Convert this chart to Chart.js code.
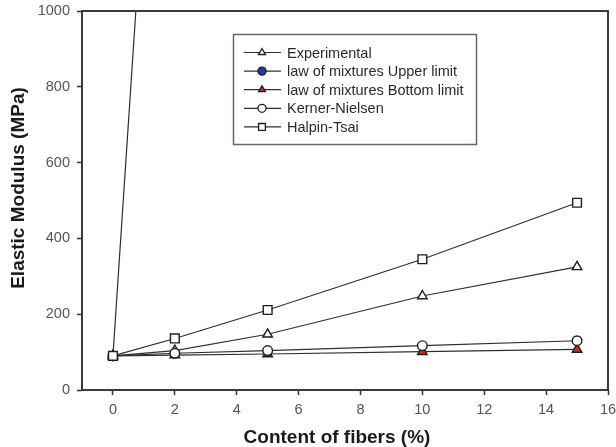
<!DOCTYPE html>
<html>
<head>
<meta charset="utf-8">
<script src="https://cdn.jsdelivr.net/npm/chart.js@4.4.1/dist/chart.umd.min.js"></script>
<style>
  body { margin: 0; background: #fff; }
</style>
</head>
<body>
<canvas id="modulusChart" width="616" height="447"></canvas>
<script>
// fiber content (%) of the samples
const fiberContent = [0, 2, 5, 10, 15];

// elastic modulus (MPa) for each series
const experimental = [90, 104, 147, 248, 325];
const mixturesUpper = [90, 2550, 6240, 12390, 18540];
const mixturesBottom = [90, 92, 95, 101, 107];
const kernerNielsen = [90, 97, 104, 117, 130];
const halpinTsai = [90, 136, 211, 345, 494];

const seriesNames = [
    "Experimental",
    "law of mixtures Upper limit",
    "law of mixtures Bottom limit",
    "Kerner-Nielsen",
    "Halpin-Tsai"
];

const xTicks = [0, 2, 4, 6, 8, 10, 12, 14, 16];
const yTicks = [0, 200, 400, 600, 800, 1000];

const lineColor = "#2e2e2e";
const tickFont = { family: "'Liberation Sans', Arial, sans-serif", size: 14.5 };

function toPoints(values) {
    return fiberContent.map((x, i) => ({ x: x, y: values[i] }));
}

function makeDataset(label, values, style, radius, fill, order) {
    return {
        label: label,
        data: toPoints(values),
        borderColor: lineColor,
        borderWidth: 1.2,
        pointStyle: style,
        pointRadius: radius,
        pointBackgroundColor: fill,
        pointBorderColor: "#1e1e1e",
        pointBorderWidth: 1.4,
        fill: false,
        tension: 0,
        order: order
    };
}

const datasets = [
    makeDataset(seriesNames[0], experimental, "triangle", 5.5, "#ffffff", 3),
    makeDataset(seriesNames[1], mixturesUpper, "circle", 4.5, "#1f3fa8", 5),
    makeDataset(seriesNames[2], mixturesBottom, "triangle", 5.5, "#d42a1e", 4),
    makeDataset(seriesNames[3], kernerNielsen, "circle", 4.8, "#ffffff", 2),
    makeDataset(seriesNames[4], halpinTsai, "rect", 6.2, "#ffffff", 1)
];

// small marker painter for the legend box
function drawMarker(ctx, style, x, y, r, fill) {
    ctx.beginPath();
    if (style === "triangle") {
        ctx.moveTo(x, y - r);
        ctx.lineTo(x + r * 0.866, y + r * 0.5);
        ctx.lineTo(x - r * 0.866, y + r * 0.5);
        ctx.closePath();
    } else if (style === "rect") {
        const s = r * 0.707;
        ctx.rect(x - s, y - s, s * 2, s * 2);
    } else {
        ctx.arc(x, y, r, 0, Math.PI * 2);
    }
    ctx.fillStyle = fill;
    ctx.fill();
    ctx.lineWidth = 1.3;
    ctx.strokeStyle = "#1e1e1e";
    ctx.stroke();
}

const framePlugin = {
    id: "frameAndLegend",
    afterDraw(chart) {
        const ctx = chart.ctx;
        const area = chart.chartArea;
        ctx.save();

        // box around the plot
        ctx.strokeStyle = "#3a3a3a";
        ctx.lineWidth = 2;
        ctx.strokeRect(area.left, area.top, area.right - area.left, area.bottom - area.top);

        // axis titles
        ctx.fillStyle = "#1a1a1a";
        ctx.font = "bold 19px 'Liberation Sans', Arial, sans-serif";
        ctx.textAlign = "center";
        ctx.textBaseline = "middle";
        ctx.fillText("Content of fibers (%)", 337, 438);
        ctx.save();
        ctx.translate(19, 188);
        ctx.rotate(-Math.PI / 2);
        ctx.fillText("Elastic Modulus (MPa)", 0, 0);
        ctx.restore();

        // legend box
        ctx.strokeStyle = "#6e6262";
        ctx.lineWidth = 1.5;
        ctx.strokeRect(233.5, 34.5, 243, 110);

        ctx.font = "14.5px 'Liberation Sans', Arial, sans-serif";
        ctx.textAlign = "left";
        chart.data.datasets.forEach((ds, i) => {
            const y = 52.5 + i * 18.6;
            ctx.strokeStyle = lineColor;
            ctx.lineWidth = 1.2;
            ctx.beginPath();
            ctx.moveTo(244, y);
            ctx.lineTo(281, y);
            ctx.stroke();
            drawMarker(ctx, ds.pointStyle, 262, y, ds.pointStyle === "rect" ? 4.8 : 4, ds.pointBackgroundColor);
            ctx.fillStyle = "#2a2a2a";
            ctx.fillText(ds.label, 287, y + 1);
        });
        ctx.restore();
    }
};

new Chart(document.getElementById("modulusChart"), {
    type: "line",
    data: { datasets: datasets },
    options: {
        responsive: false,
        animation: false,
        layout: { padding: { top: 11, right: 8, left: 0, bottom: 0 } },
        plugins: {
            legend: { display: false },
            tooltip: { enabled: false }
        },
        scales: {
            x: {
                type: "linear",
                min: -1,
                max: 16,
                afterBuildTicks: (scale) => { scale.ticks = xTicks.map(v => ({ value: v })); },
                afterFit: (scale) => {
                    scale.height = 57;
                    scale.paddingLeft = 0;
                    scale.paddingRight = 0;
                },
                grid: { drawOnChartArea: false, drawTicks: true, tickLength: 5, tickWidth: 1.5, tickColor: "#333" },
                border: { display: false },
                ticks: { color: "#555", font: tickFont, padding: 6, maxRotation: 0, callback: (v) => String(v) }
            },
            y: {
                type: "linear",
                min: 0,
                max: 1000,
                afterBuildTicks: (scale) => { scale.ticks = yTicks.map(v => ({ value: v })); },
                afterFit: (scale) => {
                    scale.width = 82;
                    scale.paddingTop = 0;
                    scale.paddingBottom = 0;
                },
                grid: { drawOnChartArea: false, drawTicks: true, tickLength: 5, tickWidth: 1.5, tickColor: "#333" },
                border: { display: false },
                ticks: { color: "#555", font: tickFont, padding: 7, callback: (v) => String(v) }
            }
        }
    },
    plugins: [framePlugin]
});
</script>
</body>
</html>
